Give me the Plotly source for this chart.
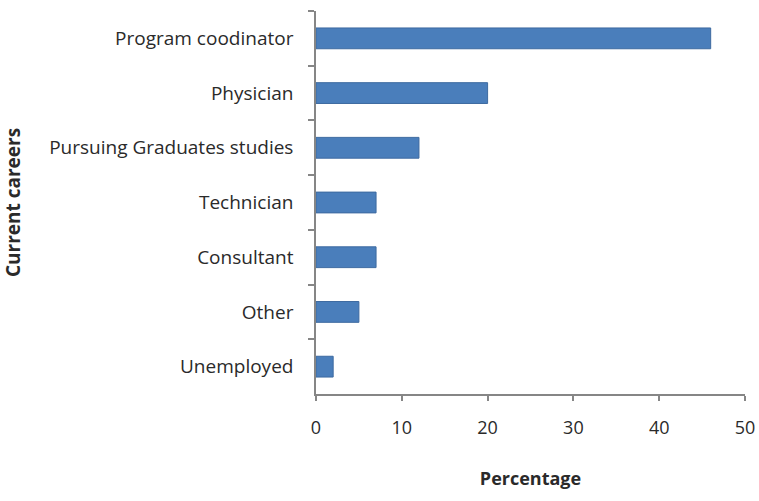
import plotly.graph_objects as go

careers = ["Program coodinator", "Physician", "Pursuing Graduates studies",
           "Technician", "Consultant", "Other", "Unemployed"]
percentages = [46, 20, 12, 7, 7, 5, 2]
x_ticks = [0, 10, 20, 30, 40, 50]

fig = go.Figure(go.Bar(
    x=percentages, y=careers, orientation="h", width=0.38,
    marker=dict(color="#4a7ebb", line=dict(color="#3d6aa0", width=1)),
))

font_family = "Open Sans, Lato, sans-serif"
fig.update_layout(
    width=759, height=501,
    margin=dict(l=316, r=14, t=11, b=107, autoexpand=False),
    paper_bgcolor="white", plot_bgcolor="white",
    showlegend=False,
    font=dict(family=font_family, size=18, color="#2a2a2a"),
)
fig.update_xaxes(
    range=[0, 50], tickvals=x_ticks, showgrid=False, zeroline=False,
    showline=True, linecolor="#868686", linewidth=1.5,
    ticks="outside", ticklen=5, tickcolor="#868686", tickwidth=1.5,
    ticklabelstandoff=12, automargin=False,
    title=dict(text="<b>Percentage</b>", font=dict(size=18), standoff=34),
)
fig.update_yaxes(
    categoryorder="array", categoryarray=careers, autorange="reversed",
    showgrid=False, zeroline=False, automargin=False,
    showline=True, linecolor="#868686", linewidth=1.5,
    ticks="outside", ticklen=6, tickcolor="#868686", tickwidth=1.5,
    tickson="boundaries", ticklabelstandoff=17,
    tickfont=dict(size=19),
    title=dict(text="<b>Current careers</b>", font=dict(size=19), standoff=47),
)
fig.write_html(
    "out.html",
    config={"displayModeBar": False},
    post_script="document.body.style.margin='0';document.body.style.overflow='hidden';",
)
